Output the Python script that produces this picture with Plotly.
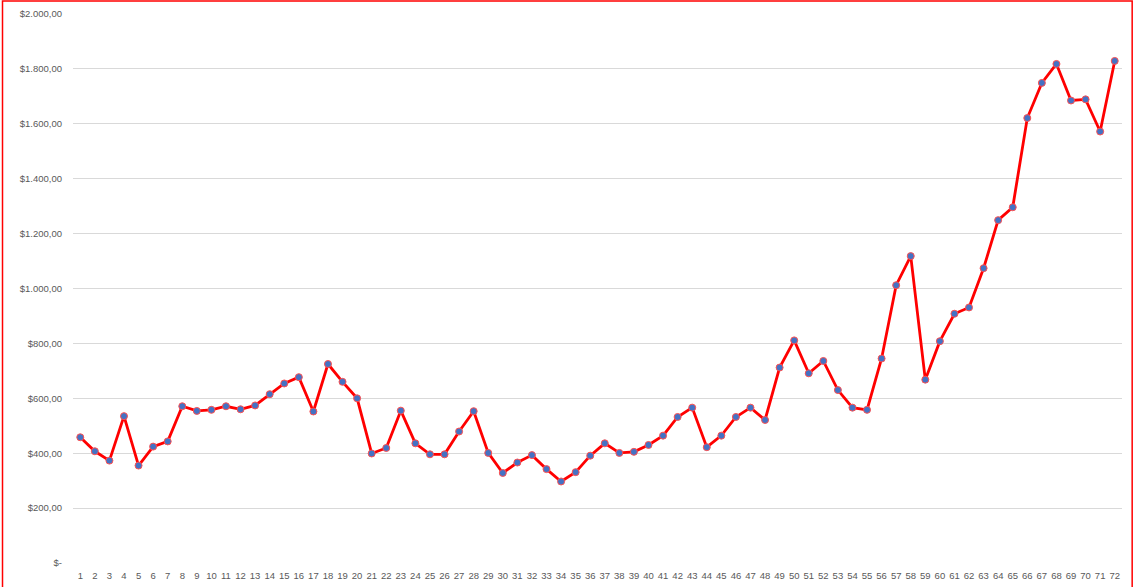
import plotly.graph_objects as go

categories = [str(i) for i in range(1, 73)]
values = [458, 407, 373, 535, 355, 424, 443, 571, 554, 558,
          571, 560, 574, 615, 654, 677, 552, 725, 660, 600,
          399, 419, 555, 436, 396, 396, 479, 553, 401, 328,
          366, 393, 342, 297, 331, 391, 436, 401, 405, 430,
          464, 532, 566, 422, 464, 532, 566, 521, 712, 811,
          691, 736, 630, 566, 558, 745, 1012, 1118, 668, 808,
          908, 931, 1074, 1249, 1296, 1621, 1749, 1818, 1685, 1689,
          1572, 1829]
y_tick_values = [0, 200, 400, 600, 800, 1000, 1200, 1400, 1600, 1800, 2000]
y_tick_labels = ["$-", "$200,00", "$400,00", "$600,00", "$800,00", "$1.000,00",
                 "$1.200,00", "$1.400,00", "$1.600,00", "$1.800,00", "$2.000,00"]

fig = go.Figure()
fig.add_trace(go.Scatter(
    x=categories, y=values, mode="lines+markers",
    line=dict(color="#ff0000", width=2.8),
    marker=dict(color="#4472c4", size=7, line=dict(color="#ff5050", width=1)),
    hoverinfo="x+y", showlegend=False, cliponaxis=False,
))

tick_font = dict(family="Liberation Sans, Arial, sans-serif", size=9.5, color="#595959")
fig.update_layout(
    width=1134, height=587,
    margin=dict(l=73, r=12, t=14, b=24),
    paper_bgcolor="white", plot_bgcolor="white",
    xaxis=dict(type="category", range=[-0.5, len(categories) - 0.5],
               tickfont=tick_font, showgrid=False, ticklabelstandoff=5,
               automargin=False,
               showline=False, zeroline=False, ticks="", fixedrange=True),
    yaxis=dict(range=[0, 2000], tickvals=y_tick_values, ticktext=y_tick_labels,
               tickfont=tick_font, showgrid=True, gridcolor="#d9d9d9",
               gridwidth=1, zeroline=False, showline=False, ticks="",
               automargin=False,
               ticklabelstandoff=10, fixedrange=True),
    shapes=[dict(type="rect", xref="paper", yref="paper",
                 x0=-0.0672, x1=1.0097, y0=-0.2, y1=1.0237,
                 line=dict(color="#ff0000", width=1.5), layer="above")],
)

fig.write_html("out.html", config={"displayModeBar": False},
               post_script="document.body.style.margin='0';document.body.style.overflow='hidden';")
